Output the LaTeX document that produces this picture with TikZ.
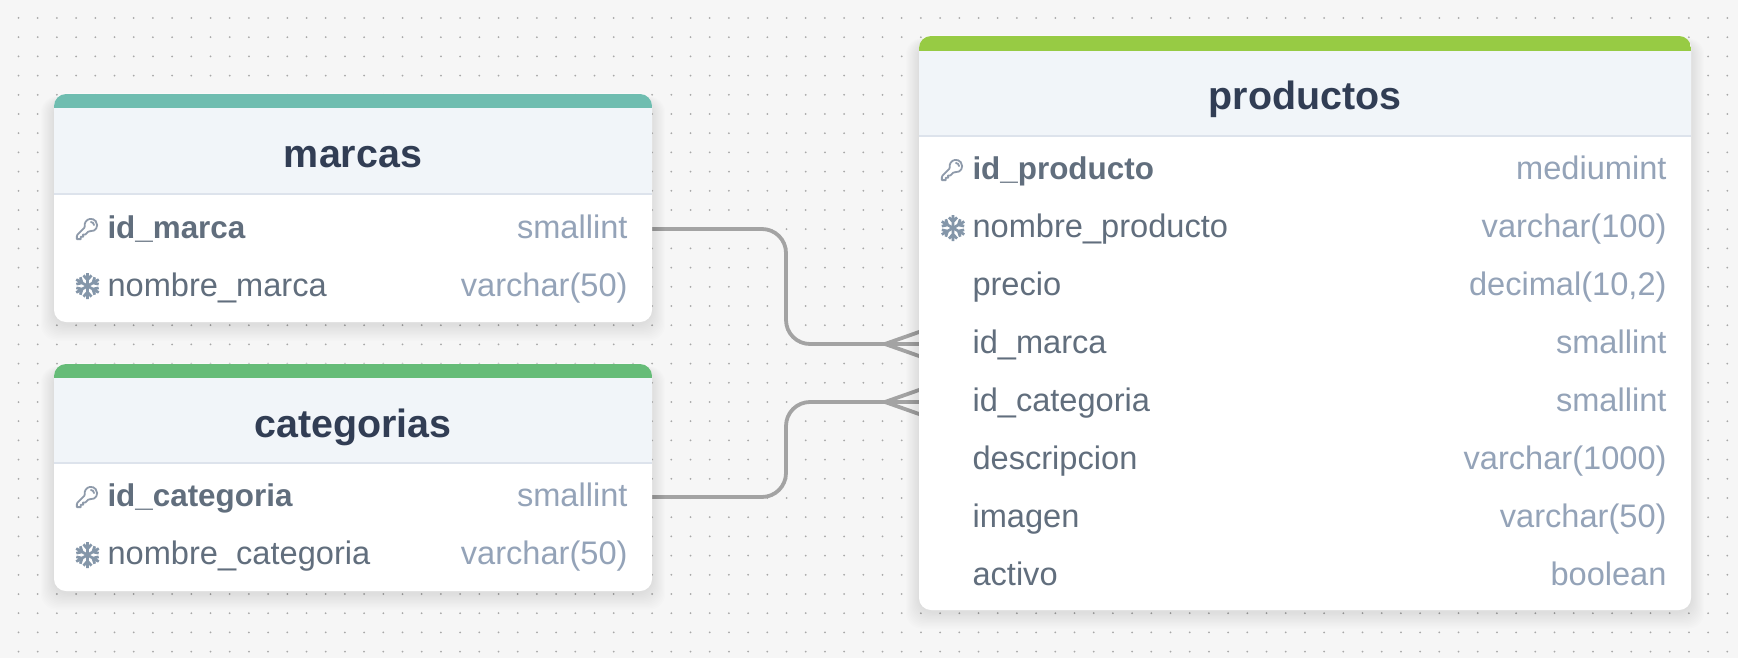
\documentclass[tikz,border=0pt]{standalone}
\usepackage{fontspec}
\setmainfont{Liberation Sans}
\usetikzlibrary{svg.path,calc}
\definecolor{pagebg}{HTML}{F6F6F6}
\definecolor{griddot}{HTML}{A8A8A8}
\definecolor{headbg}{HTML}{F1F5F9}
\definecolor{headline}{HTML}{DDE3EC}
\definecolor{titletext}{HTML}{313D54}
\definecolor{nametext}{HTML}{616E7D}
\definecolor{typetext}{HTML}{94A3B8}
\definecolor{keycol}{HTML}{8E9AAA}
\definecolor{flakecol}{HTML}{8496A9}
\definecolor{wirecol}{HTML}{A3A3A3}
\definecolor{barteal}{HTML}{6FBDB0}
\definecolor{bargreen}{HTML}{66BC78}
\definecolor{barlime}{HTML}{97CB44}
\pgfdeclarelayer{grid}
\pgfdeclarelayer{wires}
\pgfsetlayers{grid,wires,main}
\tikzset{
  x=0.5pt,y=-0.5pt,
  rowbox/.style={inner sep=0pt,outer sep=0pt,minimum height=29pt,rectangle},
  rowname/.style={inner sep=0pt,outer sep=0pt,anchor=base west,text=nametext,font=\fontsize{16.3pt}{18pt}\selectfont},
  rowkey/.style={rowname,font=\fontsize{15.7pt}{18pt}\selectfont\bfseries},
  rowtype/.style={inner sep=0pt,outer sep=0pt,anchor=base east,text=typetext,font=\fontsize{16.3pt}{18pt}\selectfont},
  tabletitle/.style={inner sep=0pt,outer sep=0pt,anchor=base,text=titletext,font=\fontsize{19.7pt}{22pt}\selectfont\bfseries},
  wire/.style={draw=wirecol,line width=1.9pt,rounded corners=12pt},
  crow/.style={draw=wirecol,line width=1.9pt},
  keyicon/.pic={
    \begin{scope}[xscale=.52,yscale=-.52,shift={(-12pt,-12pt)}]
      \draw[keycol,line width=.9pt,line join=round,line cap=round]
        svg {M 15.75 5.25 a 3 3 0 0 1 3 3 M 21.75 8.25 a 6 6 0 0 1 -7.029 5.912 c -0.563 -0.097 -1.159 0.026 -1.563 0.43 L 10.5 17.25 H 8.25 v 2.25 H 6 v 2.25 H 2.25 v -2.818 c 0 -0.597 0.237 -1.17 0.659 -1.591 l 6.499 -6.499 c 0.404 -0.404 0.527 -1 0.43 -1.563 A 6 6 0 1 1 21.75 8.25 z};
    \end{scope}
  },
  flakeicon/.pic={
    \foreach \ang in {30,90,...,330}{
      \draw[flakecol,line width=1.35pt,rotate=\ang]
        (0,0)--(13,0) (10.6,-4)--(6.2,0)--(10.6,4);
    }
  }
}
% \dbcard{id}{title}{colour}{left}{top}{right}{bar bottom}{head bottom}{bottom}
\newcommand{\dbcard}[9]{%
  \foreach \k in {1,...,12}{
    \fill[black,opacity=.008,rounded corners=8pt]
      (#4-\k*1.1,#5-\k*0.3+6) rectangle (#6+\k*1.1,#9+\k*1.4+2);
  }
  \fill[white,opacity=.4,rounded corners=6.5pt] (#4,#5-1.2) rectangle (#6,#9);
  \fill[white,rounded corners=6pt] (#4,#5) rectangle (#6,#9);
  \begin{scope}
    \clip[rounded corners=6pt] (#4,#5) rectangle (#6,#9);
    \fill[#3] (#4,#5) rectangle (#6,#7);
    \fill[headbg] (#4,#7) rectangle (#6,#8);
    \draw[headline,line width=.7pt] (#4,#8) -- (#6,#8);
  \end{scope}
  \node[tabletitle] (#1-title) at ({(#4+#6)/2},{(#7+#8)/2+16.5}) {#2};
}
% \dbrow{id}{left}{right}{y}{name style}{name}{type}
\newcommand{\dbrow}[7]{%
  \node[rowbox,minimum width={(#3-#2)*0.5pt}] (#1) at ({(#2+#3)/2},#4) {};
  \node[#5] (#1-name) at (#2+53.5,#4+9.5) {#6};
  \node[rowtype] (#1-type) at (#3-24.5,#4+9.5) {#7};
}
\begin{document}
\begin{tikzpicture}
\useasboundingbox (0,0) rectangle (1738,658);
\begin{pgfonlayer}{grid}
  \fill[pagebg] (0,0) rectangle (1738,658);
  \fill[griddot] foreach \i in {0,...,89}{ foreach \j in {0,...,33}{
      ({18.5+\i*19.2},{18+\j*19.2}) circle (1)
  }};
\end{pgfonlayer}

% marcas
\dbcard{marcas}{marcas}{barteal}{54}{94}{652}{108}{194}{322}
\dbrow{mid}{54}{652}{229}{rowkey}{id\_marca}{smallint}
\dbrow{mnom}{54}{652}{286.5}{rowname}{nombre\_marca}{varchar(50)}
\pic at (87,229) {keyicon};
\pic at (87.5,286) {flakeicon};

% categorias
\dbcard{categorias}{categorias}{bargreen}{54}{364}{652}{378}{463}{591}
\dbrow{cid}{54}{652}{497}{rowkey}{id\_categoria}{smallint}
\dbrow{cnom}{54}{652}{555}{rowname}{nombre\_categoria}{varchar(50)}
\pic at (87,497) {keyicon};
\pic at (87.5,555) {flakeicon};

% productos
\dbcard{productos}{productos}{barlime}{919}{36}{1691}{51}{136}{610}
\dbrow{pid}{919}{1691}{170}{rowkey}{id\_producto}{mediumint}
\dbrow{pnom}{919}{1691}{228}{rowname}{nombre\_producto}{varchar(100)}
\dbrow{ppre}{919}{1691}{286}{rowname}{precio}{decimal(10,2)}
\dbrow{pmar}{919}{1691}{344}{rowname}{id\_marca}{smallint}
\dbrow{pcat}{919}{1691}{402}{rowname}{id\_categoria}{smallint}
\dbrow{pdes}{919}{1691}{460}{rowname}{descripcion}{varchar(1000)}
\dbrow{pima}{919}{1691}{518}{rowname}{imagen}{varchar(50)}
\dbrow{pact}{919}{1691}{575.5}{rowname}{activo}{boolean}
\pic at (952,170) {keyicon};
\pic at (953,228) {flakeicon};

% connectors
\begin{pgfonlayer}{wires}
  \coordinate (bendm) at (786,229);
  \coordinate (bendc) at (786,497);
  \draw[wire] (mid.east) -- (bendm) |- (pmar.west);
  \draw[wire] (cid.east) -- (bendc) |- (pcat.west);
  \foreach \r in {pmar,pcat}{
    \coordinate (\r-apex) at ($(\r.west)+(-34,0)$);
    \draw[crow] ($(\r.west)+(4,-13.4)$) -- (\r-apex) -- ($(\r.west)+(4,13.4)$);
  }
\end{pgfonlayer}
\end{tikzpicture}
\end{document}
